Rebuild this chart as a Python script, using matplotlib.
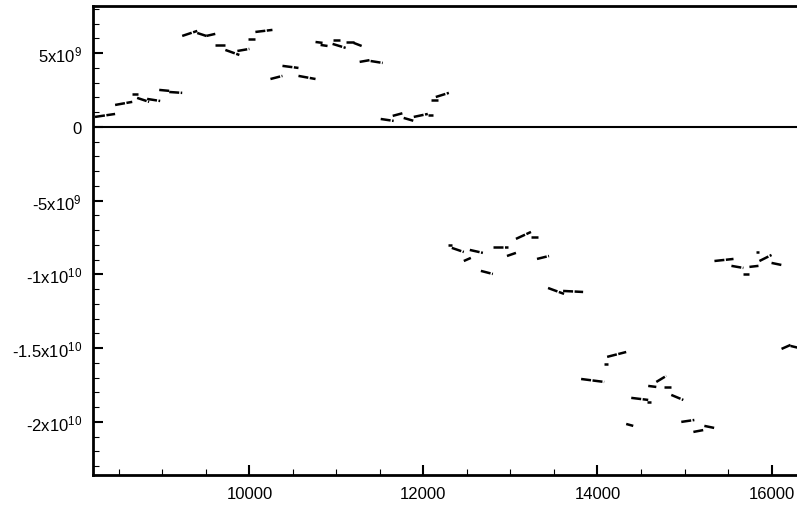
import matplotlib
matplotlib.use("Agg")
import matplotlib.pyplot as plt
from matplotlib.ticker import FixedLocator, MultipleLocator

plt.rcParams['font.family'] = ['Liberation Sans', 'DejaVu Sans']
plt.rcParams['mathtext.fontset'] = 'custom'
plt.rcParams['mathtext.rm'] = 'Liberation Sans'
plt.rcParams['mathtext.default'] = 'regular'

# Short data strokes: start/end x and start/end y (y in units of 1e9)
seg_x0 = [8226, 8457, 8653, 8710, 8825, 8964, 9079, 9228, 9401, 9505,
          9608, 9724, 9862, 9988, 10069, 10242, 10380, 10564, 10760, 10818,
          10956, 10956, 11106, 11198, 11267, 11393, 11509, 11647, 11773, 11889,
          12050, 12084, 12142,
          12280, 12326, 12464, 12533, 12660, 12798, 12960, 13063, 13236, 13305,
          13432, 13605,
          13812, 14077, 14111, 14330, 14388, 14572, 14583, 14676, 14768, 14848,
          14963, 15102, 15228,
          15344, 15539, 15677, 15746, 15827, 15861, 16000, 16115, 16219]
seg_x1 = [8457, 8654, 8722, 8848, 8975, 9090, 9228, 9401, 9505, 9608,
          9724, 9885, 10000, 10069, 10265, 10380, 10564, 10760, 10841, 10898,
          11037, 11106, 11198, 11290, 11393, 11532, 11658, 11773, 11889, 12050,
          12107, 12165, 12292,
          12326, 12464, 12545, 12683, 12798, 12971, 13063, 13236, 13317, 13443,
          13616, 13835,
          14077, 14123, 14330, 14411, 14583, 14618, 14676, 14791, 14848, 14986,
          15113, 15228, 15343,
          15563, 15677, 15746, 15850, 15861, 16000, 16115, 16219, 16311]
seg_y0 = [0.68, 1.49, 2.24, 1.97, 1.90, 2.51, 2.37, 6.17, 6.37, 6.17,
          5.56, 5.22, 5.15, 5.97, 6.44, 3.25, 4.14, 3.46, 5.76, 5.56,
          5.90, 5.63, 5.76, 5.70, 4.41, 4.47, 0.54, 0.75, 0.61, 0.68,
          0.81, 1.83, 2.03,
          -8.00, -8.20, -9.09, -8.34, -9.76, -8.14, -8.75, -7.59, -7.46, -8.95,
          -10.92, -11.12,
          -17.09, -16.07, -15.59, -20.14, -18.37, -18.65, -17.56, -17.29, -17.63, -18.17,
          -20.00, -20.68, -20.27,
          -9.09, -9.42, -9.97, -9.49, -8.48, -9.09, -9.22, -15.05, -14.85]
seg_y1 = [0.88, 1.70, 2.24, 1.70, 1.76, 2.44, 2.31, 6.51, 6.17, 6.31,
          5.56, 4.88, 5.29, 5.97, 6.58, 3.46, 4.00, 3.25, 5.70, 5.49,
          5.90, 5.36, 5.76, 5.49, 4.54, 4.34, 0.41, 0.95, 0.41, 0.88,
          0.81, 1.83, 2.31,
          -8.00, -8.48, -8.88, -8.54, -9.97, -8.14, -8.54, -7.12, -7.46, -8.75,
          -11.32, -11.19,
          -17.29, -16.07, -15.26, -20.27, -18.51, -18.65, -17.63, -16.88, -17.63, -18.51,
          -19.87, -20.54, -20.41,
          -8.95, -9.56, -9.97, -9.42, -8.48, -8.68, -9.36, -14.78, -14.98]

x_ticks = [10000, 12000, 14000, 16000]
x_labels = ['10000', '12000', '14000', '16000']
y_ticks = [5e9, 0, -5e9, -1e10, -1.5e10, -2e10]
y_labels = [r'5x10$^{9}$', '0', r'-5x10$^{9}$', r'-1x10$^{10}$',
            r'-1.5x10$^{10}$', r'-2x10$^{10}$']

fig = plt.figure(figsize=(7.97, 5.06), dpi=100)
ax = fig.add_axes([93 / 797, 30 / 506, 1 - 93 / 797 + 0.002, (476 - 7) / 506])

for x0, x1, y0, y1 in zip(seg_x0, seg_x1, seg_y0, seg_y1):
    ax.plot([x0, x1], [y0 * 1e9, y1 * 1e9], color='black', lw=1.8,
            solid_capstyle='butt', dashes=(4, 0.6))

ax.axhline(0, color='black', lw=1.5)

ax.set_xlim(8203, 16311)
ax.set_ylim(-2.36e10, 8.2e9)

ax.xaxis.set_major_locator(FixedLocator(x_ticks))
ax.set_xticklabels(x_labels)
ax.xaxis.set_minor_locator(MultipleLocator(500))
ax.yaxis.set_major_locator(FixedLocator(y_ticks))
ax.set_yticklabels(y_labels)
ax.yaxis.set_minor_locator(MultipleLocator(1e9))

ax.tick_params(which='both', direction='in', top=False, right=False,
               labelsize=12, colors='black')
ax.tick_params(which='major', length=7, width=1.5, pad=8)
ax.tick_params(which='minor', length=4, width=0.8)

for s in ['left', 'bottom', 'top']:
    ax.spines[s].set_linewidth(2.0)
ax.spines['right'].set_visible(False)

fig.savefig('out.png', dpi=100)
